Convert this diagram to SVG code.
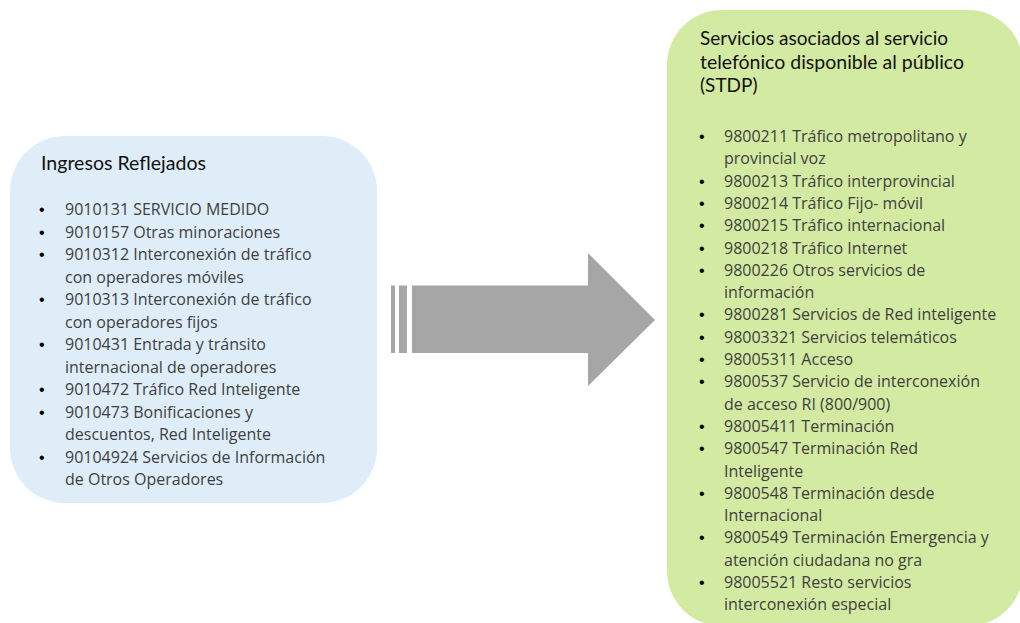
<svg xmlns="http://www.w3.org/2000/svg" width="1020" height="623" viewBox="0 0 1020 623">
<defs>
<style>
.title{font-family:Lato,"Liberation Sans",sans-serif;font-size:19px;fill:#111111;}
.item{font-family:"Open Sans","Liberation Sans",sans-serif;font-size:16px;fill:#404040;}
.bul{font-family:"Liberation Sans",sans-serif;font-size:16px;fill:#000000;}
</style>
</defs>
<rect width="1020" height="623" fill="#ffffff"/>
<g id="node-ingresos">
<rect x="10" y="136" width="367" height="367" rx="55" ry="55" fill="#DEEDF8"/>
<text class="title" x="41" y="170" textLength="165" lengthAdjust="spacingAndGlyphs">Ingresos Reflejados</text>
<text class="bul" x="39" y="215">•</text>
<text class="item" x="65" y="215">9010131 SERVICIO MEDIDO</text>
<text class="bul" x="39" y="237.5">•</text>
<text class="item" x="65" y="237.5">9010157 Otras minoraciones</text>
<text class="bul" x="39" y="260">•</text>
<text class="item" x="65" y="260">9010312 Interconexión  de tráfico</text>
<text class="item" x="65" y="282.5">con operadores móviles</text>
<text class="bul" x="39" y="305">•</text>
<text class="item" x="65" y="305">9010313 Interconexión  de tráfico</text>
<text class="item" x="65" y="327.5">con operadores fijos</text>
<text class="bul" x="39" y="350">•</text>
<text class="item" x="65" y="350">9010431 Entrada  y tránsito</text>
<text class="item" x="65" y="372.5">internacional  de operadores</text>
<text class="bul" x="39" y="395">•</text>
<text class="item" x="65" y="395">9010472 Tráfico Red Inteligente</text>
<text class="bul" x="39" y="417.5">•</text>
<text class="item" x="65" y="417.5">9010473 Bonificaciones y</text>
<text class="item" x="65" y="440">descuentos, Red Inteligente</text>
<text class="bul" x="39" y="462.5">•</text>
<text class="item" x="65" y="462.5">90104924  Servicios de Información</text>
<text class="item" x="65" y="485">de Otros Operadores</text>
</g>
<g id="connectors">
<rect x="391" y="285.5" width="4" height="67.5" fill="#A6A6A6"/>
<rect x="399" y="285.5" width="8" height="67.5" fill="#A6A6A6"/>
<polygon points="412,285.5 588,285.5 588,253 655,320 588,386 588,353 412,353" fill="#A6A6A6"/>
</g>
<g id="node-servicios">
<rect x="667" y="10" width="356" height="616" rx="55" ry="55" fill="#D3EAA2"/>
<text class="title" x="700" y="45" textLength="248" lengthAdjust="spacingAndGlyphs">Servicios asociados al servicio</text>
<text class="title" x="700" y="69" textLength="264" lengthAdjust="spacingAndGlyphs">telefónico disponible al público</text>
<text class="title" x="700" y="92">(STDP)</text>
<text class="bul" x="699" y="142">•</text>
<text class="item" x="724" y="142">9800211 Tráfico metropolitano  y</text>
<text class="item" x="724" y="164.3">provincial voz</text>
<text class="bul" x="699" y="186.6">•</text>
<text class="item" x="724" y="186.6">9800213 Tráfico interprovincial</text>
<text class="bul" x="699" y="208.9">•</text>
<text class="item" x="724" y="208.9">9800214 Tráfico Fijo- móvil</text>
<text class="bul" x="699" y="231.2">•</text>
<text class="item" x="724" y="231.2">9800215 Tráfico internacional</text>
<text class="bul" x="699" y="253.5">•</text>
<text class="item" x="724" y="253.5">9800218 Tráfico Internet</text>
<text class="bul" x="699" y="275.8">•</text>
<text class="item" x="724" y="275.8">9800226 Otros servicios de</text>
<text class="item" x="724" y="298.1">información</text>
<text class="bul" x="699" y="320.4">•</text>
<text class="item" x="724" y="320.4">9800281 Servicios de Red inteligente</text>
<text class="bul" x="699" y="342.7">•</text>
<text class="item" x="724" y="342.7">98003321  Servicios telemáticos</text>
<text class="bul" x="699" y="365">•</text>
<text class="item" x="724" y="365">98005311 Acceso</text>
<text class="bul" x="699" y="387.3">•</text>
<text class="item" x="724" y="387.3">9800537 Servicio de interconexión</text>
<text class="item" x="724" y="409.6">de acceso RI (800/900)</text>
<text class="bul" x="699" y="431.9">•</text>
<text class="item" x="724" y="431.9">98005411 Terminación</text>
<text class="bul" x="699" y="454.2">•</text>
<text class="item" x="724" y="454.2">9800547 Terminación Red</text>
<text class="item" x="724" y="476.5">Inteligente</text>
<text class="bul" x="699" y="498.8">•</text>
<text class="item" x="724" y="498.8">9800548 Terminación desde</text>
<text class="item" x="724" y="521.1">Internacional</text>
<text class="bul" x="699" y="543.4">•</text>
<text class="item" x="724" y="543.4">9800549 Terminación Emergencia y</text>
<text class="item" x="724" y="565.7">atención ciudadana  no gra</text>
<text class="bul" x="699" y="588">•</text>
<text class="item" x="724" y="588">98005521 Resto servicios</text>
<text class="item" x="724" y="610.3">interconexión especial</text>
</g>
</svg>
